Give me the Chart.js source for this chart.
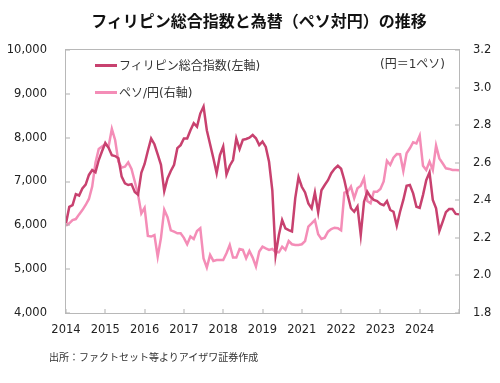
<!DOCTYPE html>
<html lang="ja">
<head>
<meta charset="UTF-8" />
<title>フィリピン総合指数と為替</title>
<script src="https://cdn.jsdelivr.net/npm/chart.js@4"></script>
<style>
  html, body { margin: 0; background: #fff; overflow: hidden; }
  #wrap { position: relative; width: 500px; height: 383px; overflow: hidden; font-family: Verdana, "DejaVu Sans", "Noto Sans CJK JP", sans-serif; color: #222; }
  #myChart { position: absolute; left: 0; top: 0; }
  #box { position: absolute; border: 1.5px solid #b8b8b8; box-sizing: border-box; pointer-events: none; }
  #title { position: absolute; top: 8px; left: 18px; width: 482px; text-align: center; font: bold 16px "Noto Sans CJK JP", sans-serif; color: #111; line-height: 24px; }
  .leg { position: absolute; left: 95px; font-size: 12px; line-height: 16px; color: #333; white-space: nowrap; }
  .leg span { display: inline-block; width: 22px; height: 3px; vertical-align: middle; margin-right: 2px; position: relative; top: -1px; }
  #unit { position: absolute; top: 56px; left: 380px; font-size: 12px; line-height: 16px; color: #333; }
  #src { position: absolute; top: 350px; left: 49px; font: 10px "Noto Sans CJK JP", sans-serif; color: #333; line-height: 14px; }
</style>
</head>
<body>
<div id="wrap">
  <canvas id="myChart" width="500" height="383"></canvas>
  <div id="box"></div>
  <div id="title">フィリピン総合指数と為替（ペソ対円）の推移</div>
  <div class="leg" style="top:58px"><span style="background:#c8416f"></span>フィリピン総合指数(左軸)</div>
  <div class="leg" style="top:85px"><span style="background:#f48db7"></span>ペソ/円(右軸)</div>
  <div id="unit">(円＝1ペソ)</div>
  <div id="src">出所：ファクトセット等よりアイザワ証券作成</div>
</div>
<script>
  // monthly points, one label every 12 months (as printed on the original)
  const yearLabels = ["2014", "2015", "2016", "2017", "2018", "2019", "2021", "2022", "2023", "2024"];

  const psei = [
    6050, 6420, 6460, 6710, 6680, 6840, 6930, 7150, 7260, 7210,
    7490, 7690, 7880, 7770, 7600, 7580, 7530, 7110, 6960, 6920,
    6940, 6760, 6700, 7200, 7400, 7700, 7980, 7850, 7620, 7380,
    6780, 7070, 7240, 7380, 7760, 7830, 7980, 7980, 8170, 8330,
    8250, 8550, 8710, 8170, 7850, 7530, 7190, 7600, 7800, 7160,
    7360, 7490, 7985, 7740, 7950, 7970, 8000, 8060, 7985, 7830,
    7910, 7790, 7450, 6800, 5320, 5780, 6120, 5930, 5890, 5860,
    6620, 7100, 6880, 6750, 6500, 6390, 6750, 6300, 6800, 6920,
    7030, 7190, 7290, 7360, 7290, 7030, 6690, 6390, 6310, 6430,
    5780, 6540, 6770, 6650, 6580, 6555, 6490, 6460, 6555, 6350,
    6310, 5990, 6310, 6580, 6900, 6920, 6730, 6425, 6400, 6690,
    7030, 7210, 6580, 6390, 5870, 6080, 6300, 6370, 6370, 6260,
    6250
  ];

  const pesoYen = [
    2.265, 2.277, 2.295, 2.300, 2.325, 2.348, 2.375, 2.407, 2.473, 2.600,
    2.673, 2.686, 2.698, 2.686, 2.780, 2.721, 2.606, 2.574, 2.579, 2.602,
    2.567, 2.500, 2.430, 2.330, 2.360, 2.210, 2.207, 2.215, 2.100, 2.200,
    2.350, 2.310, 2.240, 2.233, 2.224, 2.224, 2.200, 2.166, 2.207, 2.194,
    2.237, 2.251, 2.090, 2.042, 2.109, 2.077, 2.082, 2.082, 2.082, 2.118,
    2.162, 2.095, 2.095, 2.141, 2.136, 2.091, 2.130, 2.095, 2.047, 2.127,
    2.153, 2.144, 2.136, 2.141, 2.123, 2.123, 2.153, 2.136, 2.183, 2.166,
    2.162, 2.162, 2.166, 2.183, 2.260, 2.277, 2.295, 2.219, 2.194, 2.201,
    2.233, 2.247, 2.254, 2.251, 2.240, 2.440, 2.446, 2.473, 2.411, 2.464,
    2.478, 2.517, 2.396, 2.384, 2.446, 2.446, 2.460, 2.500, 2.610, 2.588,
    2.627, 2.646, 2.645, 2.556, 2.650, 2.677, 2.709, 2.703, 2.744, 2.584,
    2.561, 2.606, 2.561, 2.691, 2.623, 2.597, 2.570, 2.567, 2.561, 2.561,
    2.560
  ];

  const labels = psei.map((v, i) => (i % 12 === 0 && yearLabels[i / 12]) || "");

  const tickFont = { family: 'Verdana, "DejaVu Sans", sans-serif', size: 11.5 };
  const frameColor = "#b0b0b0";

  // short ticks pointing inwards from the box edges
  const innerTicks = {
    id: "innerTicks",
    afterDraw(chart) {
      const c = chart.ctx;
      const sc = chart.scales;
      const L = sc.x.left, R = sc.x.right, B = sc.y.bottom;
      c.save();
      c.fillStyle = frameColor;
      sc.y.ticks.forEach((t) => {
        const y = Math.round(sc.y.getPixelForValue(t.value));
        c.fillRect(L, y - 0.5, 4, 1);
      });
      sc.y1.ticks.forEach((t) => {
        const y = Math.round(sc.y1.getPixelForValue(t.value));
        c.fillRect(R - 4, y - 0.5, 4, 1);
      });
      for (let i = 0; i < labels.length; i += 12) {
        const x = Math.round(sc.x.getPixelForValue(i));
        c.fillRect(x - 0.5, B - 4, 1, 4);
      }
      c.restore();
    },
  };

  const chart = new Chart(document.getElementById("myChart"), {
    type: "line",
    data: {
      labels: labels,
      datasets: [
        {
          label: "フィリピン総合指数(左軸)",
          data: psei,
          yAxisID: "y",
          borderColor: "#c8416f",
          borderWidth: 2.5,
          pointRadius: 0,
          tension: 0,
        },
        {
          label: "ペソ/円(右軸)",
          data: pesoYen,
          yAxisID: "y1",
          borderColor: "#f48db7",
          borderWidth: 2.5,
          pointRadius: 0,
          tension: 0,
        },
      ],
    },
    options: {
      responsive: false,
      animation: false,
      layout: { padding: { top: 50, left: 0, right: 0, bottom: 0 } },
      plugins: {
        legend: { display: false },
        tooltip: { enabled: false },
      },
      scales: {
        x: {
          grid: { display: false, drawTicks: false },
          border: { display: false },
          afterFit: (s) => { s.height = 70; },
          ticks: {
            autoSkip: false,
            maxRotation: 0,
            padding: 10,
            color: "#222",
            font: tickFont,
            callback: function (value) {
              return labels[value] || null;
            },
          },
        },
        y: {
          position: "left",
          min: 4000,
          max: 10000,
          grid: { display: false, drawTicks: false },
          border: { display: false },
          afterFit: (s) => { s.width = 66; },
          ticks: {
            stepSize: 1000,
            padding: 19,
            color: "#222",
            font: tickFont,
            callback: (v) => v.toLocaleString("en-US"),
          },
        },
        y1: {
          position: "right",
          min: 1.8,
          max: 3.2,
          grid: { display: false, drawTicks: false },
          border: { display: false },
          afterFit: (s) => { s.width = 41; },
          ticks: {
            stepSize: 0.2,
            padding: 14,
            color: "#222",
            font: tickFont,
            callback: (v) => v.toFixed(1),
          },
        },
      },
    },
    plugins: [innerTicks],
  });

  // plot frame follows the chart area that Chart.js worked out
  const sx = chart.scales.x, sy = chart.scales.y;
  const box = document.getElementById("box");
  box.style.left = (sx.left - 0.75) + "px";
  box.style.top = (sy.top - 0.75) + "px";
  box.style.width = (sx.right - sx.left + 1.5) + "px";
  box.style.height = (sy.bottom - sy.top + 1.5) + "px";
</script>
</body>
</html>
